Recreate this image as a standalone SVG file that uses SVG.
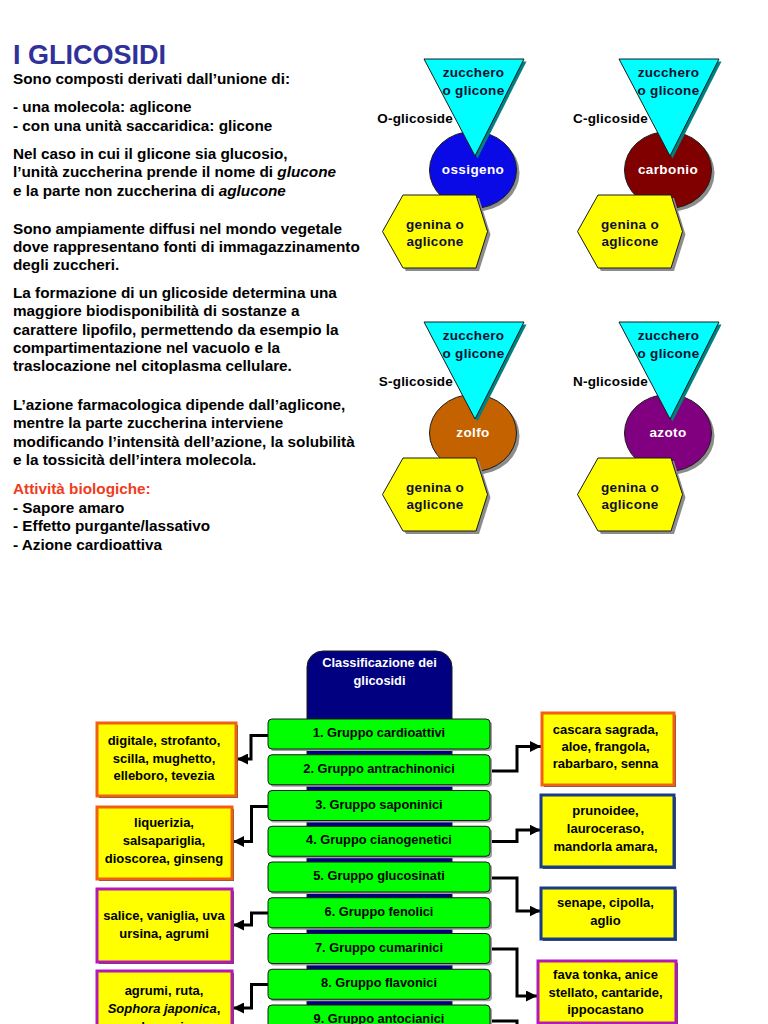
<svg xmlns="http://www.w3.org/2000/svg" width="768" height="1024" viewBox="0 0 768 1024">
<defs>
<style>
.t{font-family:"Liberation Sans",Arial,sans-serif;font-weight:bold;font-size:15.3px;fill:#000}
.ttl{font-family:"Liberation Sans",Arial,sans-serif;font-weight:bold;font-size:27px;fill:#31319a}
.red{fill:#f03c1e}
.it{font-style:italic}
.tri{fill:#00ffff;stroke:#1a1a1a;stroke-width:1}
.trish{fill:#008080}
.sh{fill:#8c8c8c}
.hex{fill:#ffff00;stroke:#1a1a1a;stroke-width:1}
.circ{stroke:#1a1a1a;stroke-width:1}
.gt{font-family:"Liberation Sans",Arial,sans-serif;font-weight:bold;font-size:13.5px;letter-spacing:0.3px;text-anchor:middle;fill:#101030}
.gl{font-family:"Liberation Sans",Arial,sans-serif;font-weight:bold;font-size:13.5px;letter-spacing:0.2px;text-anchor:end;fill:#000}
.ct{font-family:"Liberation Sans",Arial,sans-serif;font-weight:bold;font-size:13.5px;letter-spacing:0.4px;text-anchor:middle;fill:#fff}
.bar{fill:#00ff00;stroke:#1a1a1a;stroke-width:1}
.barsh{fill:#a0a0a0}
.bt{font-family:"Liberation Sans",Arial,sans-serif;font-weight:bold;font-size:12.8px;text-anchor:middle;fill:#000}
.box{fill:#ffff00;stroke-width:3}
.or{stroke:#f06010}
.bl{stroke:#1a3a8a}
.mg{stroke:#b418b8}
.boxsh{fill:#555}
.xt{font-family:"Liberation Sans",Arial,sans-serif;font-weight:bold;font-size:13px;text-anchor:middle;fill:#000}
.hd{font-family:"Liberation Sans",Arial,sans-serif;font-weight:bold;font-size:12.8px;text-anchor:middle;fill:#fff}
.con{fill:none;stroke:#000;stroke-width:3}
</style>
<marker id="arr" markerUnits="userSpaceOnUse" markerWidth="11" markerHeight="11" refX="10" refY="5" orient="auto" viewBox="0 0 10 10">
<path d="M0,0 L10,5 L0,10 z" fill="#000"/>
</marker>
</defs>
<rect width="768" height="1024" fill="#fff"/>

<g id="text-left">
<text class="ttl" x="13" y="64">I GLICOSIDI</text>
<text class="t" x="13" y="83.5">Sono composti derivati dall’unione di:</text>
<text class="t" x="13" y="112">- una molecola: aglicone</text>
<text class="t" x="13" y="130.5">- con una unità saccaridica: glicone</text>
<text class="t" x="13" y="158.5">Nel caso in cui il glicone sia glucosio,</text>
<text class="t" x="13" y="177">l’unità zuccherina prende il nome di <tspan class="it">glucone</tspan></text>
<text class="t" x="13" y="195.5">e la parte non zuccherina di <tspan class="it">aglucone</tspan></text>
<text class="t" x="13" y="233.5">Sono ampiamente diffusi nel mondo vegetale</text>
<text class="t" x="13" y="252">dove rappresentano fonti di immagazzinamento</text>
<text class="t" x="13" y="270">degli zuccheri.</text>
<text class="t" x="13" y="297.5">La formazione di un glicoside determina una</text>
<text class="t" x="13" y="316">maggiore biodisponibilità di sostanze a</text>
<text class="t" x="13" y="334.5">carattere lipofilo, permettendo da esempio la</text>
<text class="t" x="13" y="352.5">compartimentazione nel vacuolo e la</text>
<text class="t" x="13" y="371">traslocazione nel citoplasma cellulare.</text>
<text class="t" x="13" y="409.5">L’azione farmacologica dipende dall’aglicone,</text>
<text class="t" x="13" y="428">mentre la parte zuccherina interviene</text>
<text class="t" x="13" y="446.5">modificando l’intensità dell’azione, la solubilità</text>
<text class="t" x="13" y="464.5">e la tossicità dell’intera molecola.</text>
<text class="t red" x="13" y="493.5">Attività biologiche:</text>
<text class="t" x="13" y="512.5">- Sapore amaro</text>
<text class="t" x="13" y="531">- Effetto purgante/lassativo</text>
<text class="t" x="13" y="549.5">- Azione cardioattiva</text>
</g>

<g id="o-glicoside">
<ellipse class="sh" cx="476" cy="173" rx="43.5" ry="38.5"/>
<ellipse class="circ" cx="473" cy="170" rx="43.5" ry="38.5" fill="#0a0ae6"/>
<polygon class="trish" points="426.5,61.5 526.5,61.5 477.5,158.5"/>
<polygon class="tri" points="424,59 524,59 475,156"/>
<polygon class="sh" points="406,198 479,198 490.5,234.5 479,271 406,271 385.5,234.5"/>
<polygon class="hex" points="403,195 476,195 487.5,231.5 476,268 403,268 382.5,231.5"/>
<text class="gt" x="473.5" y="77">zucchero</text>
<text class="gt" x="473.5" y="94.5">o glicone</text>
<text class="gl" x="453" y="123">O-glicoside</text>
<text class="ct" x="473" y="174">ossigeno</text>
<text class="gt" x="435" y="229">genina o</text>
<text class="gt" x="435" y="246">aglicone</text>
</g>

<g id="c-glicoside" transform="translate(195,0)">
<ellipse class="sh" cx="476" cy="173" rx="43.5" ry="38.5"/>
<ellipse class="circ" cx="473" cy="170" rx="43.5" ry="38.5" fill="#800000"/>
<polygon class="trish" points="426.5,61.5 526.5,61.5 477.5,158.5"/>
<polygon class="tri" points="424,59 524,59 475,156"/>
<polygon class="sh" points="406,198 479,198 490.5,234.5 479,271 406,271 385.5,234.5"/>
<polygon class="hex" points="403,195 476,195 487.5,231.5 476,268 403,268 382.5,231.5"/>
<text class="gt" x="473.5" y="77">zucchero</text>
<text class="gt" x="473.5" y="94.5">o glicone</text>
<text class="gl" x="453" y="123">C-glicoside</text>
<text class="ct" x="473" y="174">carbonio</text>
<text class="gt" x="435" y="229">genina o</text>
<text class="gt" x="435" y="246">aglicone</text>
</g>

<g id="s-glicoside" transform="translate(0,263)">
<ellipse class="sh" cx="476" cy="173" rx="43.5" ry="38.5"/>
<ellipse class="circ" cx="473" cy="170" rx="43.5" ry="38.5" fill="#c46200"/>
<polygon class="trish" points="426.5,61.5 526.5,61.5 477.5,158.5"/>
<polygon class="tri" points="424,59 524,59 475,156"/>
<polygon class="sh" points="406,198 479,198 490.5,234.5 479,271 406,271 385.5,234.5"/>
<polygon class="hex" points="403,195 476,195 487.5,231.5 476,268 403,268 382.5,231.5"/>
<text class="gt" x="473.5" y="77">zucchero</text>
<text class="gt" x="473.5" y="94.5">o glicone</text>
<text class="gl" x="453" y="123">S-glicoside</text>
<text class="ct" x="473" y="174">zolfo</text>
<text class="gt" x="435" y="229">genina o</text>
<text class="gt" x="435" y="246">aglicone</text>
</g>

<g id="n-glicoside" transform="translate(195,263)">
<ellipse class="sh" cx="476" cy="173" rx="43.5" ry="38.5"/>
<ellipse class="circ" cx="473" cy="170" rx="43.5" ry="38.5" fill="#800080"/>
<polygon class="trish" points="426.5,61.5 526.5,61.5 477.5,158.5"/>
<polygon class="tri" points="424,59 524,59 475,156"/>
<polygon class="sh" points="406,198 479,198 490.5,234.5 479,271 406,271 385.5,234.5"/>
<polygon class="hex" points="403,195 476,195 487.5,231.5 476,268 403,268 382.5,231.5"/>
<text class="gt" x="473.5" y="77">zucchero</text>
<text class="gt" x="473.5" y="94.5">o glicone</text>
<text class="gl" x="453" y="123">N-glicoside</text>
<text class="ct" x="473" y="174">azoto</text>
<text class="gt" x="435" y="229">genina o</text>
<text class="gt" x="435" y="246">aglicone</text>
</g>

<g id="header">
<rect x="307" y="651" width="145" height="420" rx="16" fill="#000080" stroke="#1a1a1a" stroke-width="1"/>
<text class="hd" x="379.5" y="667">Classificazione dei</text>
<text class="hd" x="379.5" y="685">glicosidi</text>
</g>

<g id="connectors">
<path class="con" d="M268,735.5 H251 V759 H237" marker-end="url(#arr)"/>
<path class="con" d="M268,806.5 H251.5 V841.5 H233" marker-end="url(#arr)"/>
<path class="con" d="M268,913 H251.5 V925 H233" marker-end="url(#arr)"/>
<path class="con" d="M268,984.5 H251.5 V1008 H233" marker-end="url(#arr)"/>
<path class="con" d="M490,771 H517 V746.5 H541" marker-end="url(#arr)"/>
<path class="con" d="M490,841.5 H517 V830 H540.5" marker-end="url(#arr)"/>
<path class="con" d="M490,878 H517 V911 H540.5" marker-end="url(#arr)"/>
<path class="con" d="M490,949 H517 V996 H537" marker-end="url(#arr)"/>
<path class="con" d="M490,1021 H517 V1030"/>
</g>

<g id="bar1"><rect class="barsh" x="270" y="721" width="222" height="30" rx="4"/><rect class="bar" x="268" y="719" width="222" height="30" rx="4"/><text class="bt" x="379" y="737">1. Gruppo cardioattivi</text></g>
<g id="bar2"><rect class="barsh" x="270" y="756.75" width="222" height="30" rx="4"/><rect class="bar" x="268" y="754.75" width="222" height="30" rx="4"/><text class="bt" x="379" y="772.75">2. Gruppo antrachinonici</text></g>
<g id="bar3"><rect class="barsh" x="270" y="792.5" width="222" height="30" rx="4"/><rect class="bar" x="268" y="790.5" width="222" height="30" rx="4"/><text class="bt" x="379" y="808.5">3. Gruppo saponinici</text></g>
<g id="bar4"><rect class="barsh" x="270" y="828.25" width="222" height="30" rx="4"/><rect class="bar" x="268" y="826.25" width="222" height="30" rx="4"/><text class="bt" x="379" y="844.25">4. Gruppo cianogenetici</text></g>
<g id="bar5"><rect class="barsh" x="270" y="864" width="222" height="30" rx="4"/><rect class="bar" x="268" y="862" width="222" height="30" rx="4"/><text class="bt" x="379" y="880">5. Gruppo glucosinati</text></g>
<g id="bar6"><rect class="barsh" x="270" y="899.75" width="222" height="30" rx="4"/><rect class="bar" x="268" y="897.75" width="222" height="30" rx="4"/><text class="bt" x="379" y="915.75">6. Gruppo fenolici</text></g>
<g id="bar7"><rect class="barsh" x="270" y="935.5" width="222" height="30" rx="4"/><rect class="bar" x="268" y="933.5" width="222" height="30" rx="4"/><text class="bt" x="379" y="951.5">7. Gruppo cumarinici</text></g>
<g id="bar8"><rect class="barsh" x="270" y="971.25" width="222" height="30" rx="4"/><rect class="bar" x="268" y="969.25" width="222" height="30" rx="4"/><text class="bt" x="379" y="987.25">8. Gruppo flavonici</text></g>
<g id="bar9"><rect class="barsh" x="270" y="1007" width="222" height="30" rx="4"/><rect class="bar" x="268" y="1005" width="222" height="30" rx="4"/><text class="bt" x="379" y="1023">9. Gruppo antocianici</text></g>

<g id="box-l1"><rect class="boxsh" x="99" y="725" width="139" height="73"/><rect class="box or" x="97" y="723" width="139" height="73"/>
<text class="xt" x="164" y="745">digitale, strofanto,</text><text class="xt" x="164" y="762.5">scilla, mughetto,</text><text class="xt" x="164" y="780">elleboro, tevezia</text></g>
<g id="box-l2"><rect class="boxsh" x="99" y="809" width="135" height="72"/><rect class="box or" x="97" y="807" width="135" height="72"/>
<text class="xt" x="164" y="827">liquerizia,</text><text class="xt" x="164" y="845">salsapariglia,</text><text class="xt" x="164" y="863">dioscorea, ginseng</text></g>
<g id="box-l3"><rect class="boxsh" x="99" y="891" width="135" height="73"/><rect class="box mg" x="97" y="889" width="135" height="73"/>
<text class="xt" x="164" y="920">salice, vaniglia, uva</text><text class="xt" x="164" y="937.5">ursina, agrumi</text></g>
<g id="box-l4"><rect class="boxsh" x="99" y="973" width="135" height="70"/><rect class="box mg" x="97" y="971" width="135" height="70"/>
<text class="xt" x="164" y="995">agrumi, ruta,</text><text class="xt" x="164" y="1013"><tspan class="it">Sophora japonica</tspan>,</text><text class="xt" x="164" y="1031">cardo mariano,</text></g>

<g id="box-r1"><rect class="boxsh" x="544" y="715" width="132" height="72"/><rect class="box or" x="542" y="713" width="132" height="72"/>
<text class="xt" x="605.5" y="733.5">cascara sagrada,</text><text class="xt" x="605.5" y="751">aloe, frangola,</text><text class="xt" x="605.5" y="768">rabarbaro, senna</text></g>
<g id="box-r2"><rect class="boxsh" x="543" y="797" width="133" height="72"/><rect class="box bl" x="541" y="795" width="133" height="72"/>
<text class="xt" x="605.5" y="815">prunoidee,</text><text class="xt" x="605.5" y="832.5">lauroceraso,</text><text class="xt" x="605.5" y="851">mandorla amara,</text></g>
<g id="box-r3"><rect class="boxsh" x="543" y="890" width="134" height="51"/><rect class="box bl" x="541" y="888" width="134" height="51"/>
<text class="xt" x="605.5" y="907">senape, cipolla,</text><text class="xt" x="605.5" y="925">aglio</text></g>
<g id="box-r4"><rect class="boxsh" x="540" y="963" width="138" height="62"/><rect class="box mg" x="538" y="961" width="138" height="62"/>
<text class="xt" x="605.5" y="978.5">fava tonka, anice</text><text class="xt" x="605.5" y="997">stellato, cantaride,</text><text class="xt" x="605.5" y="1014">ippocastano</text></g>
</svg>
